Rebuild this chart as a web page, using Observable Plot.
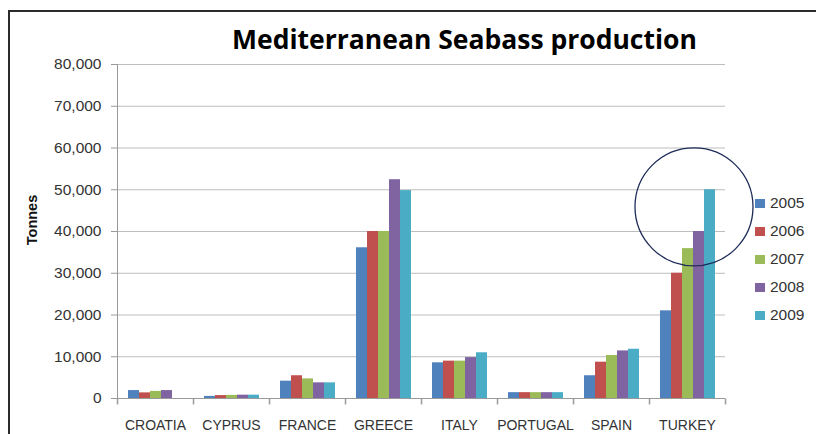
<!DOCTYPE html>
<html>
<head>
<meta charset="utf-8">
<script src="https://cdn.jsdelivr.net/npm/d3@7"></script>
<script src="https://cdn.jsdelivr.net/npm/@observablehq/plot@0.6"></script>
<style>
  html, body { margin: 0; padding: 0; background: #fff; }
  #wrap { position: relative; width: 816px; height: 434px; overflow: hidden; background: #fff; font-family: "Liberation Sans", Arial, sans-serif; }
  #border { position: absolute; left: 8px; top: 10px; width: 1000px; height: 1000px; border-left: 2px solid #2b2b2b; border-top: 2px solid #2b2b2b; }
  #chart { position: absolute; left: 0; top: 0; }
  #title { position: absolute; left: 0; width: 929px; top: 22px; line-height: 34px; text-align: center; font-family: "Open Sans", sans-serif; font-weight: bold; font-size: 26.5px; color: #000; white-space: nowrap; }
  #ylabel { position: absolute; left: 32px; top: 220px; transform: translate(-50%, -50%) rotate(-90deg); font-weight: bold; font-size: 14.5px; color: #111; white-space: nowrap; }
  #legend { position: absolute; left: 755px; top: 189px; }
  .li { display: flex; align-items: center; height: 28px; font-size: 15.5px; color: #333; }
  .sw { width: 10px; height: 9px; margin-right: 5px; }
</style>
</head>
<body>
<div id="wrap">
  <div id="border"></div>
  <div id="chart"></div>
  <div id="title"></div>
  <div id="ylabel"></div>
  <div id="legend"></div>
</div>
<script>
const title = "Mediterranean Seabass production";
const yLabel = "Tonnes";
const countries = ["CROATIA", "CYPRUS", "FRANCE", "GREECE", "ITALY", "PORTUGAL", "SPAIN", "TURKEY"];
const years = ["2005", "2006", "2007", "2008", "2009"];
const colors = ["#4F81BD", "#C0504D", "#9BBB59", "#8064A2", "#4BACC6"];
const v2005 = [1900, 500, 4150, 36100, 8550, 1400, 5450, 21000];
const v2006 = [1350, 700, 5450, 40000, 8950, 1400, 8700, 30000];
const v2007 = [1700, 750, 4700, 40000, 8950, 1400, 10300, 35900];
const v2008 = [1900, 800, 3750, 52400, 9800, 1400, 11400, 40000];
const v2009 = [null, 800, 3750, 49800, 10950, 1400, 11800, 50000];
const yTicks = [0, 10000, 20000, 30000, 40000, 50000, 60000, 70000, 80000];
const highlight = [{country: "TURKEY", year: "2007", value: 45900}];

const series = [v2005, v2006, v2007, v2008, v2009];
const data = [];
years.forEach((yr, j) => countries.forEach((c, i) => {
  if (series[j][i] != null) data.push({country: c, year: yr, value: series[j][i]});
}));

const tickSymbol = { draw(ctx) { ctx.moveTo(0, 0); ctx.lineTo(0, 6); } };

const plot = Plot.plot({
  width: 816,
  height: 434,
  marginTop: 64,
  marginBottom: 36,
  marginLeft: 115,
  marginRight: 90,
  style: { fontFamily: "'Liberation Sans', Arial, sans-serif", background: "transparent" },
  x: { domain: years, axis: null, paddingInner: 0, paddingOuter: 0.77 },
  fx: { domain: countries, padding: 0, axis: null },
  y: { domain: [0, 80000], axis: null },
  color: { domain: years, range: colors },
  marks: [
    Plot.gridY(yTicks, { stroke: "#bdbdbd", strokeOpacity: 1, strokeWidth: 1 }),
    Plot.barY(data, { fx: "country", x: "year", y: "value", fill: "year" }),
    Plot.ruleY([0], { stroke: "#9a9a9a" }),
    Plot.frame({ anchor: "left", facetAnchor: "left", stroke: "#9a9a9a" }),
    Plot.dot([0], { frameAnchor: "bottom-left", symbol: tickSymbol, r: 2, stroke: "#9a9a9a", fill: "none" }),
    Plot.dot([{country: "TURKEY"}], { fx: "country", frameAnchor: "bottom-right", symbol: tickSymbol, r: 2, stroke: "#9a9a9a", fill: "none" }),
    Plot.axisY({ ticks: yTicks, tickFormat: d3.format(","), tickSize: 6, tickPadding: 10, stroke: "#9a9a9a", fill: "#333", fontSize: 15.5, label: null }),
    Plot.axisFx({ anchor: "bottom", tickSize: 0, tickPadding: 22, fill: "#333", fontSize: 14, label: null }),
    Plot.dot(highlight, { fx: "country", x: "year", y: "value", dx: 6, r: 59, stroke: "#1d2b57", strokeWidth: 1.3, fill: "none" })
  ]
});
document.getElementById("chart").appendChild(plot);
document.getElementById("title").textContent = title;
document.getElementById("ylabel").textContent = yLabel;
const legend = document.getElementById("legend");
years.forEach((yr, j) => {
  const row = document.createElement("div");
  row.className = "li";
  const sw = document.createElement("div");
  sw.className = "sw";
  sw.style.background = colors[j];
  const t = document.createElement("span");
  t.textContent = yr;
  row.appendChild(sw); row.appendChild(t);
  legend.appendChild(row);
});
</script>
</body>
</html>
